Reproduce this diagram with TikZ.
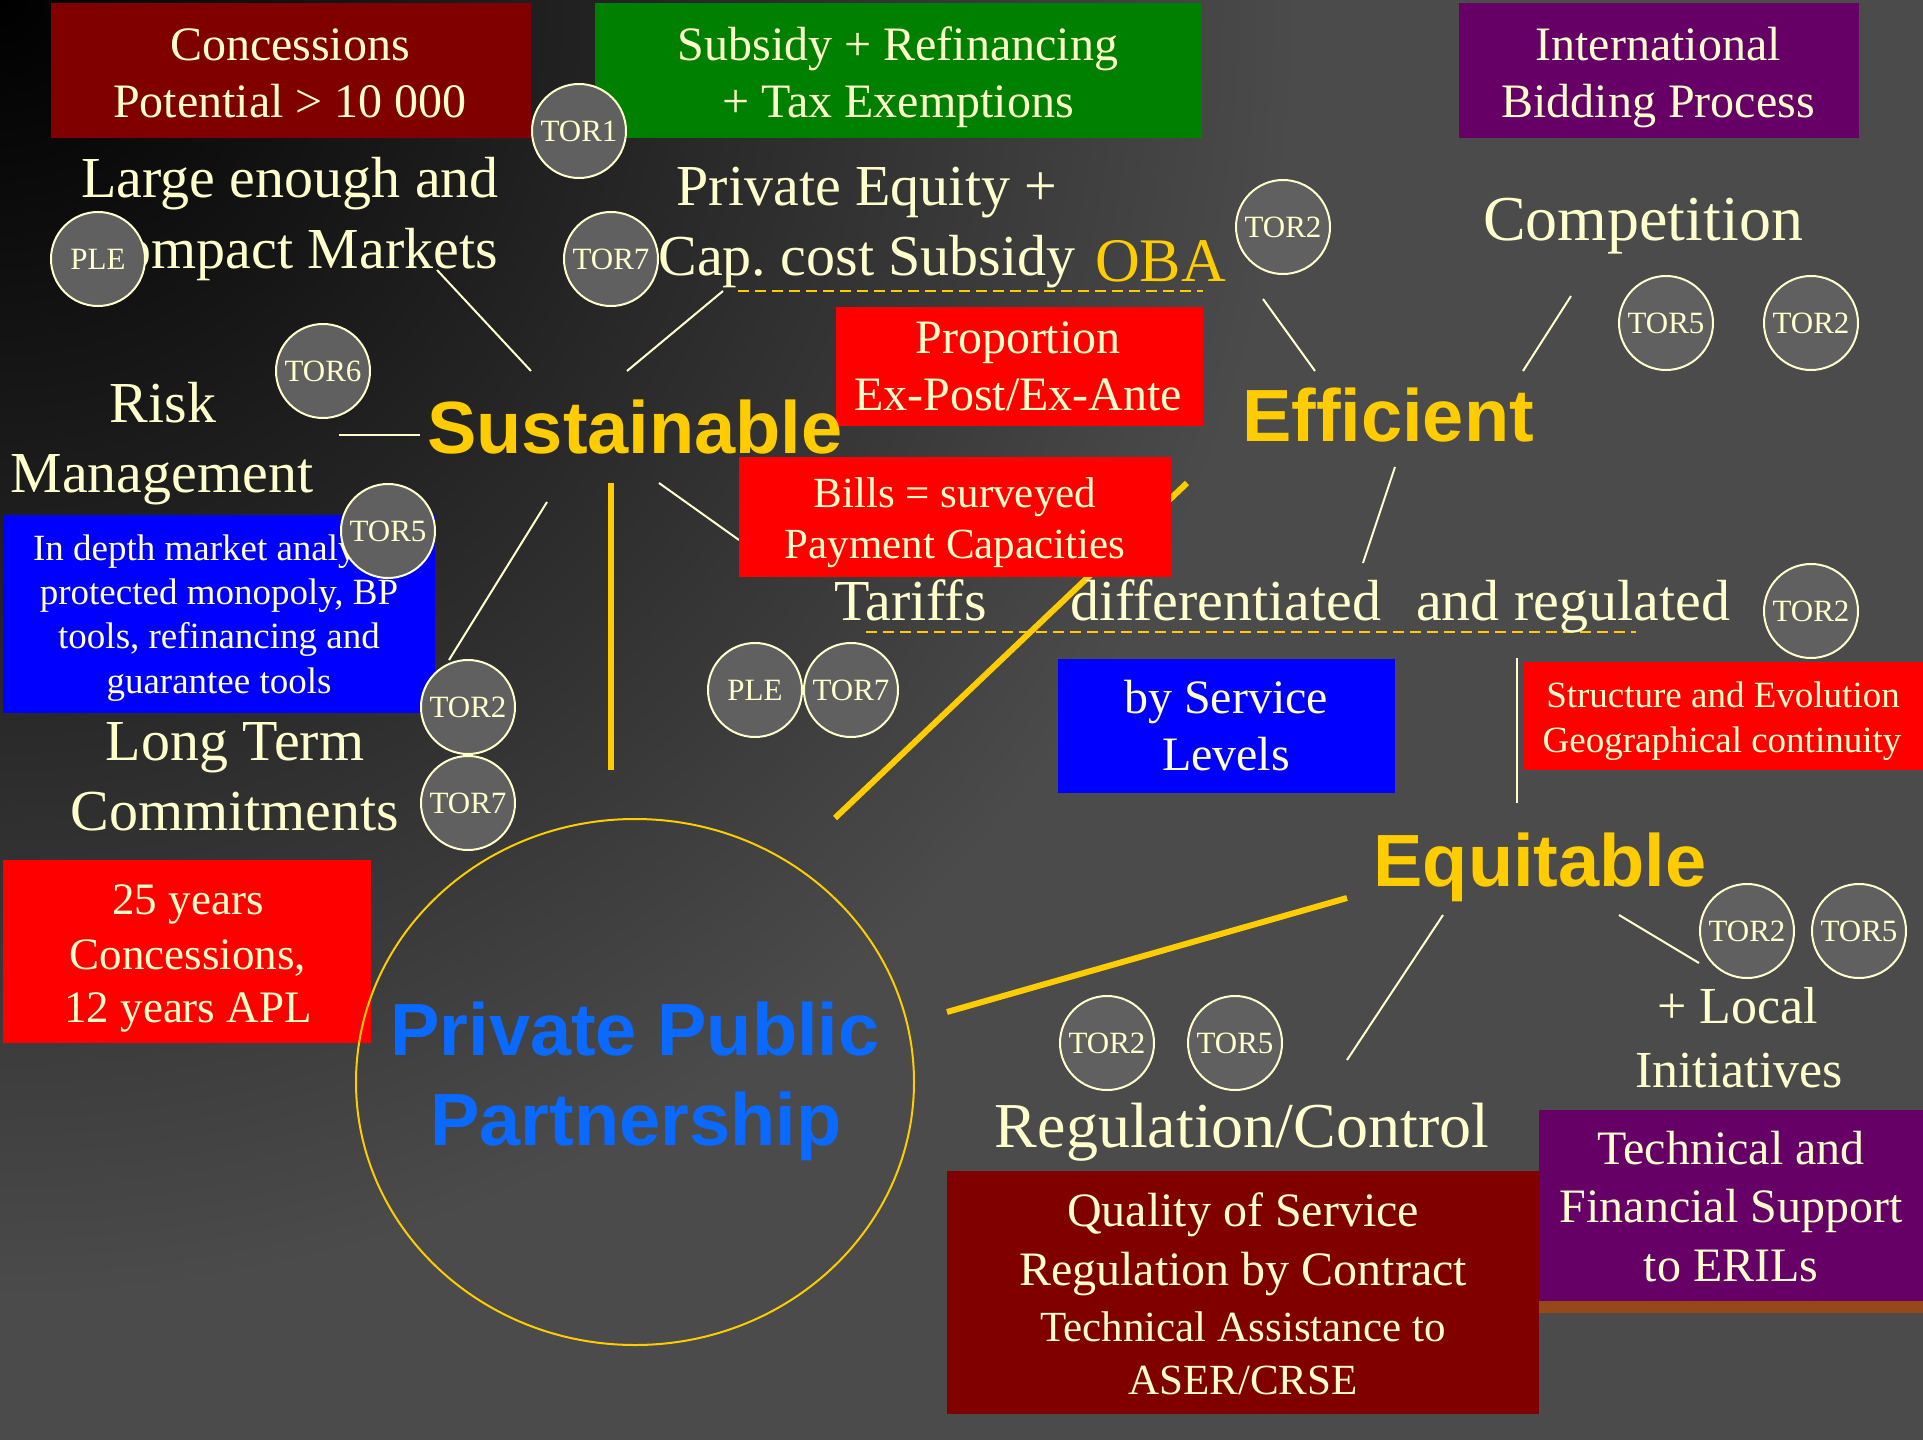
\documentclass[tikz,border=0pt]{standalone}
\usepackage{fontspec}
\setmainfont{Liberation Serif}
\newfontfamily\headfont{Liberation Sans}
\usetikzlibrary{shapes.geometric}
\definecolor{cream}{RGB}{255,255,204}
\definecolor{gold}{RGB}{255,204,0}
\definecolor{bggray}{RGB}{75,75,75}
\definecolor{darkred}{RGB}{128,0,0}
\definecolor{grn}{RGB}{0,128,0}
\definecolor{purp}{RGB}{102,0,102}
\definecolor{brightred}{RGB}{255,0,0}
\definecolor{pureblue}{RGB}{0,0,255}
\definecolor{pppblue}{RGB}{10,105,255}
\definecolor{torgray}{RGB}{96,96,96}
\definecolor{stripcol}{RGB}{150,72,25}
\newcommand\fsz[1]{\fontsize{#1}{#1}\selectfont}
\begin{document}
\begin{tikzpicture}[x=1pt,y=-1pt,
  txt/.style={text=cream, inner sep=0pt, outer sep=0pt, anchor=base},
  head/.style={text=gold, inner sep=0pt, outer sep=0pt, anchor=base, font=\headfont\bfseries\fsz{74}},
  panel/.style={inner sep=0pt, outer sep=0pt, anchor=north west, draw=none},
  tor/.style={circle, draw=cream, line width=2pt, fill=torgray, minimum size=94pt, inner sep=0pt, text=cream, font=\fsz{31}},
  link/.style={draw=cream, line width=2pt},
  goldlink/.style={draw=gold, line width=6pt},
  underl/.style={draw=gold, line width=2.5pt, dash pattern=on 11pt off 6pt}
]
\useasboundingbox (0,0) rectangle (1923,1440);
% background
\fill[bggray] (0,0) rectangle (1923,1440);
\begin{scope}
  \clip (0,0) rectangle (1923,1440);
  \shade[inner color=black, outer color=bggray] (0,0) circle (1300);
\end{scope}

% connector end points
\coordinate (c1a) at (437,270); \coordinate (c1b) at (531,371);
\coordinate (c2a) at (627,371); \coordinate (c2b) at (723,291);
\coordinate (c3a) at (339,435); \coordinate (c3b) at (420,435);
\coordinate (c4a) at (547,502); \coordinate (c4b) at (449,660);
\coordinate (c5a) at (611,483); \coordinate (c5b) at (611,770);
\coordinate (c6a) at (659,483); \coordinate (c6b) at (739,540);
\coordinate (c7a) at (835,818); \coordinate (c7b) at (1187,483);
\coordinate (c8a) at (1263,299); \coordinate (c8b) at (1315,371);
\coordinate (c9a) at (1523,371); \coordinate (c9b) at (1571,296);
\coordinate (c10a) at (1395,467); \coordinate (c10b) at (1363,563);
\coordinate (c11a) at (1517,658); \coordinate (c11b) at (1517,803);
\coordinate (c12a) at (947,1012); \coordinate (c12b) at (1347,898);
\coordinate (c13a) at (1443,915); \coordinate (c13b) at (1347,1060);
\coordinate (c14a) at (1619,915); \coordinate (c14b) at (1699,963);
\coordinate (d1a) at (738,291); \coordinate (d1b) at (1203,291);
\coordinate (d2a) at (866,632); \coordinate (d2b) at (1636,632);

% connectors
\draw[link] (c1a) -- (c1b);
\draw[link] (c2a) -- (c2b);
\draw[link] (c3a) -- (c3b);
\draw[link] (c4a) -- (c4b);
\draw[link] (c6a) -- (c6b);
\draw[link] (c8a) -- (c8b);
\draw[link] (c9a) -- (c9b);
\draw[link] (c10a) -- (c10b);
\draw[link] (c11a) -- (c11b);
\draw[link] (c13a) -- (c13b);
\draw[link] (c14a) -- (c14b);
\draw[draw=gold, line width=5.5pt] (c5a) -- (c5b);
\draw[goldlink] (c7a) -- (c7b);
\draw[goldlink] (c12a) -- (c12b);
\draw[underl] (d1a) -- (d1b);
\draw[underl] (d2a) -- (d2b);

% panels
\node[panel, fill=darkred, minimum width=480pt, minimum height=135pt] (concbox) at (51,3) {};
\node[panel, fill=grn, minimum width=607pt, minimum height=135pt] (subsbox) at (595,3) {};
\node[panel, fill=purp, minimum width=400pt, minimum height=135pt] (bidbox) at (1459,3) {};
\node[panel, fill=brightred, minimum width=367pt, minimum height=119pt] (propbox) at (836,307) {};
\node[panel, fill=brightred, minimum width=432pt, minimum height=120pt] (billsbox) at (739,457) {};
\node[panel, fill=pureblue, minimum width=432pt, minimum height=198pt] (depthbox) at (3,515) {};
\node[panel, fill=pureblue, minimum width=337pt, minimum height=134pt] (servbox) at (1058,659) {};
\node[panel, fill=brightred, minimum width=400pt, minimum height=108pt] (structbox) at (1523,662) {};
\node[panel, fill=brightred, minimum width=368pt, minimum height=183pt] (yearsbox) at (3,860) {};
\node[panel, fill=purp, minimum width=384pt, minimum height=191pt] (ttfbox) at (1539,1110) {};
\node[panel, fill=stripcol, minimum width=384pt, minimum height=12pt] (strip) at (1539,1301) {};
\node[panel, fill=darkred, minimum width=592pt, minimum height=243pt] (qosbox) at (947,1171) {};

% ring
\node[ellipse, draw=gold, line width=2pt, minimum width=558pt, minimum height=526pt, inner sep=0pt] (pppring) at (635,1082) {};

% texts
\node[txt, font=\fsz{48}] (conc1) at (290,60) {Concessions};
\node[txt, font=\fsz{48}] (conc2) at (290,117) {Potential > 10 000};
\node[txt, font=\fsz{48}] (subs1) at (898,60) {Subsidy + Refinancing};
\node[txt, font=\fsz{48}] (subs2) at (898,117) {+ Tax Exemptions};
\node[txt, font=\fsz{48}] (bid1) at (1658,60) {International};
\node[txt, font=\fsz{48}] (bid2) at (1658,117) {Bidding Process};
\node[txt, font=\fsz{58}] (large1) at (290,197) {Large enough and};
\node[txt, font=\fsz{58}] (large2) at (291,268) {Compact Markets};
\node[txt, font=\fsz{58}] (priv1) at (867,205) {Private Equity +};
\node[txt, font=\fsz{58}] (priv2) at (867,275) {Cap.\ cost Subsidy};
\node[txt, text=gold, anchor=base west, font=\fsz{62}] (oba) at (1095,281) {OBA};
\node[txt, font=\fsz{48}] (prop1) at (1018,353) {Proportion};
\node[txt, font=\fsz{48}] (prop2) at (1018,410) {Ex-Post/Ex-Ante};
\node[txt, font=\fsz{64}] (comp) at (1643,240) {Competition};
\node[txt, font=\fsz{58}] (risk1) at (163,422) {Risk};
\node[txt, font=\fsz{58}] (risk2) at (162,492) {Management};
\node[txt, font=\fsz{37}] (depth1) at (219,560) {In depth market analysis,};
\node[txt, font=\fsz{37}] (depth2) at (219,604) {protected monopoly, BP};
\node[txt, font=\fsz{37}] (depth3) at (219,648) {tools, refinancing and};
\node[txt, font=\fsz{37}] (depth4) at (219,693) {guarantee tools};
\node[txt, font=\fsz{58}] (long1) at (235,760) {Long Term};
\node[txt, font=\fsz{58}] (long2) at (235,830) {Commitments};
\node[txt, font=\fsz{45}] (years1) at (188,914) {25 years};
\node[txt, font=\fsz{45}] (years2) at (188,969) {Concessions,};
\node[txt, font=\fsz{45}] (years3) at (188,1022) {12 years APL};
\node[txt, font=\fsz{43}] (bills1) at (955,507) {Bills = surveyed};
\node[txt, font=\fsz{43}] (bills2) at (955,558) {Payment Capacities};
\node[txt, anchor=base west, font=\fsz{58}] (tariffs) at (834,620) {Tariffs};
\node[txt, anchor=base west, font=\fsz{58}] (diff) at (1070,620) {differentiated};
\node[txt, anchor=base west, font=\fsz{58}] (andreg) at (1416,620) {and regulated};
\node[txt, font=\fsz{48}] (serv1) at (1226,713) {by Service};
\node[txt, font=\fsz{48}] (serv2) at (1226,770) {Levels};
\node[txt, font=\fsz{37}] (struct1) at (1723,707) {Structure and Evolution};
\node[txt, font=\fsz{37}] (struct2) at (1722,752) {Geographical continuity};
\node[txt, font=\fsz{64}] (reg) at (1242,1147) {Regulation/Control};
\node[txt, font=\fsz{52}] (local1) at (1738,1023) {+ Local};
\node[txt, font=\fsz{52}] (local2) at (1739,1087) {Initiatives};
\node[txt, font=\fsz{48}] (ttf1) at (1731,1164) {Technical and};
\node[txt, font=\fsz{48}] (ttf2) at (1731,1222) {Financial Support};
\node[txt, font=\fsz{48}] (ttf3) at (1731,1281) {to ERILs};
\node[txt, font=\fsz{48}] (qos1) at (1243,1226) {Quality of Service};
\node[txt, font=\fsz{48}] (qos2) at (1243,1285) {Regulation by Contract};
\node[txt, font=\fsz{43}] (qos3) at (1243,1341) {Technical Assistance to};
\node[txt, font=\fsz{43}] (qos4) at (1243,1394) {ASER/CRSE};

% headings
\node[head] (sust) at (635,453) {Sustainable};
\node[head] (effi) at (1388,441) {Efficient};
\node[head] (equi) at (1540,886) {Equitable};
\node[head, text=pppblue] (ppp1) at (635,1055) {Private Public};
\node[head, text=pppblue] (ppp2) at (636,1145) {Partnership};

% TOR badges
\node[tor] (tor1) at (579,131) {TOR1};
\node[tor] (pleA) at (98,259) {PLE};
\node[tor] (tor7a) at (611,259) {TOR7};
\node[tor] (tor6) at (323,371) {TOR6};
\node[tor] (tor5a) at (388,531) {TOR5};
\node[tor] (tor2a) at (468,707) {TOR2};
\node[tor] (tor7b) at (468,803) {TOR7};
\node[tor] (tor2b) at (1283,227) {TOR2};
\node[tor] (tor5b) at (1666,323) {TOR5};
\node[tor] (tor2c) at (1811,323) {TOR2};
\node[tor] (tor2d) at (1811,611) {TOR2};
\node[tor] (pleB) at (755,690) {PLE};
\node[tor] (tor7c) at (851,690) {TOR7};
\node[tor] (tor2e) at (1107,1043) {TOR2};
\node[tor] (tor5c) at (1235,1043) {TOR5};
\node[tor] (tor2f) at (1747,931) {TOR2};
\node[tor] (tor5d) at (1859,931) {TOR5};
\end{tikzpicture}
\end{document}
